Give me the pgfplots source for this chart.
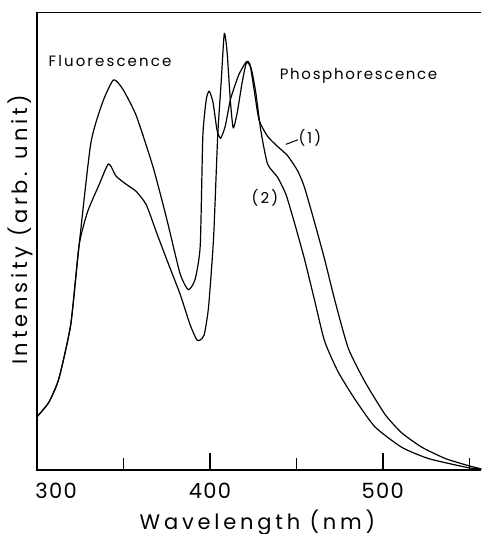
\documentclass[border=0pt]{standalone}
\usepackage{fontspec}
\setmainfont{Poppins}
\newfontfamily\lblfont[LetterSpace=18]{Poppins}
\newfontfamily\annfont[LetterSpace=14]{Poppins}
\newfontfamily\phfont[LetterSpace=11]{Poppins}
\newfontfamily\tickfont[LetterSpace=6]{Poppins}
\usepackage{pgfplots}
\pgfplotsset{compat=1.18}

\pgfplotstableread{
x y
300.0 52
306.8 66
312.6 89
319.5 142
324.3 219
331.1 319
337.9 359
344.2 381
349.6 372
357.4 346
367.1 296
374.9 246
382.7 192
387.5 176
391.4 186
394.4 219
395.9 326
397.9 362
399.6 370
401.8 359
404.1 332
406.2 324
408.9 336
411.9 362
416.7 386
421.2 399
423.2 396
425.5 372
428.4 342
433.3 326
439.1 316
444.9 307
450.8 292
454.7 276
460.5 242
466.3 206
472.2 166
480.0 119
489.7 86
501.4 54
511.1 36
522.8 22
536.4 11
550.0 4
557.0 1
}\curveone

\pgfplotstableread{
x y
300.0 52
306.8 66
312.6 89
319.5 142
324.3 219
329.2 252
336.0 279
341.4 299
345.7 287
351.6 279
357.4 272
363.2 259
369.1 232
374.9 206
382.7 172
388.5 142
392.4 127
394.4 127
396.7 132
399.2 159
402.1 226
404.5 326
406.4 376
408.3 426
409.9 409
411.9 359
413.5 334
415.8 349
418.7 379
421.2 398
423.9 392
426.5 369
429.4 332
433.3 299
439.1 286
444.0 269
448.8 242
454.7 206
460.5 166
466.3 126
474.1 96
483.9 69
495.5 42
511.1 22
526.7 11
550.0 2
557.0 1
}\curvetwo

\begin{document}
\begin{tikzpicture}
\begin{axis}[
  width=222pt, height=228.5pt, scale only axis,
  xmin=300, xmax=557, ymin=0, ymax=446.7,
  axis line style={draw=none},
  xtick={300,400,500}, minor xtick={350,450,550},
  xticklabels={,400,500},
  xtick pos=left, ytick=\empty,
  tick align=inside,
  major tick length=8.5pt, minor tick length=6pt,
  every tick/.style={black, line width=0.7pt},
  xticklabel style={font=\fontsize{10.5}{12}\tickfont, yshift=-3pt},
  /pgf/number format/assume math mode=true,
  clip=false,
]
\draw[line width=0.7pt] (rel axis cs:1,1) -- (rel axis cs:0,1) -- (rel axis cs:0,0) -- (rel axis cs:1,0);
\addplot[black, line width=0.6pt, smooth, tension=0.35, line join=round] table[x=x,y=y] {\curveone};
\addplot[black, line width=0.6pt, smooth, tension=0.35, line join=round] table[x=x,y=y] {\curvetwo};

\node[anchor=north west, inner sep=0pt, xshift=-1pt, yshift=-6.3pt, font=\fontsize{10.5}{12}\tickfont] at (axis cs:300,0) {300};

\node[font=\fontsize{7.5}{9}\annfont] at (axis cs:342.2,399.4) {Fluorescence};
\node[font=\fontsize{7.5}{9}\phfont] at (axis cs:486,385.2) {Phosphorescence};
\node[font=\fontsize{7.5}{9}\annfont] at (axis cs:457.8,324) {(1)};
\draw[line width=0.5pt] (axis cs:443.9,318) -- (axis cs:450.9,322.5);
\node[font=\fontsize{7.5}{9}\annfont] at (axis cs:431.8,266) {(2)};

\node[rotate=90, anchor=south, inner sep=2pt, font=\fontsize{10.5}{12}\lblfont] at (rel axis cs:0,0.525) {Intensity (arb. unit)};
\node[anchor=north, inner sep=0pt, yshift=-19.5pt, font=\fontsize{10.5}{12}\lblfont] at (axis cs:427.5,0) {Wavelength (nm)};

\coordinate (ll) at (rel axis cs:0,0);
\coordinate (ur) at (rel axis cs:1,1);
\end{axis}
\pgfresetboundingbox
\path[use as bounding box] ([xshift=-18.5pt,yshift=-32pt]ll) rectangle ([yshift=6.3pt]ur);
\end{tikzpicture}
\end{document}
